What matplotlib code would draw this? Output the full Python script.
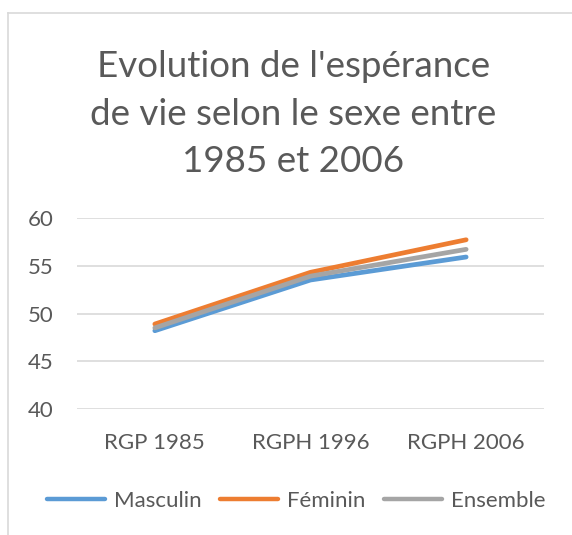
import matplotlib
matplotlib.use('Agg')
import matplotlib.pyplot as plt
from matplotlib.lines import Line2D

# Espérance de vie par recensement
categories = ['RGP 1985', 'RGPH 1996', 'RGPH 2006']
masculin = [48.2, 53.5, 55.9]
feminin = [48.9, 54.3, 57.7]
ensemble = [48.5, 53.9, 56.7]
y_ticks = [40, 45, 50, 55, 60]

title = "Evolution de l'espérance\nde vie selon le sexe entre\n1985 et 2006"

text_color = '#595959'
grid_color = '#D9D9D9'

plt.rcParams['font.family'] = ['Lato', 'DejaVu Sans']

fig = plt.figure(figsize=(5.72, 5.35), dpi=100)
axis = fig.add_axes([0.1346, 0.235, 0.8164, 0.358])

x_positions = range(len(categories))
axis.plot(x_positions, masculin, color='#5B9BD5', linewidth=3.4,
          solid_capstyle='round', label='Masculin', zorder=3)
axis.plot(x_positions, feminin, color='#ED7D31', linewidth=3.4,
          solid_capstyle='round', label='Féminin', zorder=3)
axis.plot(x_positions, ensemble, color='#A5A5A5', linewidth=3.4,
          solid_capstyle='round', label='Ensemble', zorder=3)

axis.set_xlim(-0.5, len(categories) - 0.5)
axis.set_ylim(y_ticks[0], y_ticks[-1])
axis.set_xticks(list(x_positions))
axis.set_xticklabels(categories)
axis.set_yticks(y_ticks)
axis.tick_params(length=0, labelsize=16, colors=text_color)
axis.tick_params(axis='y', pad=17)
axis.tick_params(axis='x', pad=17)
axis.grid(axis='y', color=grid_color, linewidth=1.2)
axis.set_axisbelow(True)
for spine in axis.spines.values():
    spine.set_visible(False)

fig.text(0.513, 0.907, title, ha='center', va='top', fontsize=26.5,
         color=text_color, linespacing=1.55)

legend = fig.legend(loc='center', bbox_to_anchor=(0.518, 0.064), ncol=3,
                    frameon=False, fontsize=16, handlelength=2.6,
                    handletextpad=0.4, columnspacing=0.85, labelcolor=text_color)
for handle in legend.get_lines():
    handle.set_linewidth(3.2)

# chart frame (Excel-like border, cut off at right and bottom)
fig.add_artist(Line2D([0.014, 0.014], [0.0, 0.976], color=grid_color,
                      linewidth=1.2, transform=fig.transFigure))
fig.add_artist(Line2D([0.014, 1.0], [0.976, 0.976], color=grid_color,
                      linewidth=1.2, transform=fig.transFigure))

fig.savefig('out.png', dpi=100)
